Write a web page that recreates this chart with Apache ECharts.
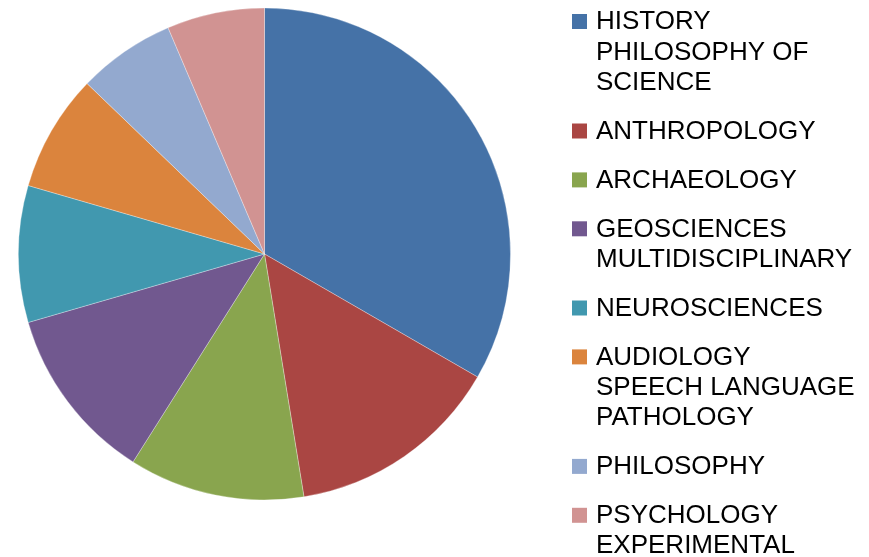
<!DOCTYPE html>
<html>
<head>
<meta charset="utf-8">
<script src="https://cdn.jsdelivr.net/npm/echarts@6/dist/echarts.min.js"></script>
<style>
  html, body { margin: 0; padding: 0; background: #fff; }
  #chart { width: 869px; height: 557px; }
</style>
</head>
<body>
<div id="chart"></div>
<script>
// categories (legend lines split where the original wraps)
var categories = [
  'HISTORY PHILOSOPHY OF SCIENCE',
  'ANTHROPOLOGY',
  'ARCHAEOLOGY',
  'GEOSCIENCES MULTIDISCIPLINARY',
  'NEUROSCIENCES',
  'AUDIOLOGY SPEECH LANGUAGE PATHOLOGY',
  'PHILOSOPHY',
  'PSYCHOLOGY EXPERIMENTAL'
];
var legendLines = [
  ['HISTORY', 'PHILOSOPHY OF', 'SCIENCE'],
  ['ANTHROPOLOGY'],
  ['ARCHAEOLOGY'],
  ['GEOSCIENCES', 'MULTIDISCIPLINARY'],
  ['NEUROSCIENCES'],
  ['AUDIOLOGY', 'SPEECH LANGUAGE', 'PATHOLOGY'],
  ['PHILOSOPHY'],
  ['PSYCHOLOGY', 'EXPERIMENTAL']
];
var values = [26, 11, 9, 9, 7, 6, 5, 5];
var colors = ['#4572A7', '#AA4643', '#89A54E', '#71588F', '#4198AF', '#DB843D', '#93A9CF', '#D19392'];

var dom = document.getElementById('chart');
var myChart = echarts.init(dom, null, { renderer: 'canvas' });

var pieData = [];
for (var i = 0; i < categories.length; i++) {
  pieData.push({ name: categories[i], value: values[i] });
}

// legend drawn as graphic so the marker sits on the first line
var lineH = 30.3;
var blockGap = 18.6;
var legendItems = [];
var y = 7;
for (var j = 0; j < legendLines.length; j++) {
  legendItems.push({
    type: 'rect',
    left: 572,
    top: y + 7,
    shape: { width: 15, height: 15 },
    style: { fill: colors[j] }
  });
  legendItems.push({
    type: 'text',
    left: 596,
    top: y,
    style: {
      text: legendLines[j].join('\n'),
      fontFamily: 'Liberation Sans, Arial, sans-serif',
      fontSize: 26,
      lineHeight: lineH,
      fill: '#000'
    }
  });
  y += legendLines[j].length * lineH + blockGap;
}

var option = {
  animation: false,
  color: colors,
  graphic: legendItems,
  series: [
    {
      name: 'Categories',
      type: 'pie',
      center: [264.5, 254],
      radius: 246,
      startAngle: 90,
      clockwise: true,
      label: { show: false },
      labelLine: { show: false },
      itemStyle: {
        borderColor: 'rgba(255,255,255,0.6)',
        borderWidth: 0.5
      },
      emphasis: { disabled: true },
      data: pieData
    }
  ]
};
if (option && typeof option === 'object') {
  myChart.setOption(option, true);
}
window.addEventListener('resize', function () {
  myChart.resize();
});
</script>
</body>
</html>
